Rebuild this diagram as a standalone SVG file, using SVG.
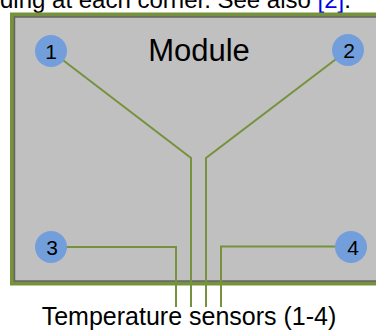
<svg xmlns="http://www.w3.org/2000/svg" width="376" height="336" viewBox="0 0 376 336">
<style>
text{font-family:"Liberation Sans",Arial,sans-serif;fill:#000}
.n circle{fill:#729fdc}
.n text{font-size:21px;text-anchor:middle}
.w{fill:none;stroke:#76923c;stroke-width:2}
</style>
<rect width="376" height="336" fill="#fff"/>
<text x="0" y="7.5" font-size="24">ding at each corner. See also <tspan fill="#0000ee">[2]</tspan>.</text>
<g id="module">
<rect x="12" y="14.5" width="380" height="269" fill="#6b8a34" stroke="#76923c" stroke-width="4"/>
<rect x="14.5" y="17" width="380" height="264" fill="#c0c0c0" stroke="#646464" stroke-width="1.5"/>
<text x="199" y="61" font-size="31" text-anchor="middle">Module</text>
</g>
<g id="connectors">
<polyline class="w" points="51,51 191,158 191,307"/>
<polyline class="w" points="348,50 206,158 206,307"/>
<polyline class="w" points="51,247 176,247 176,307"/>
<polyline class="w" points="351,246.5 221,246.5 221,307"/>
</g>
<g id="s1" class="n"><circle cx="51" cy="51" r="16"/><text x="51" y="58.5">1</text></g>
<g id="s2" class="n"><circle cx="348" cy="50" r="16"/><text x="349" y="57.5">2</text></g>
<g id="s3" class="n"><circle cx="51" cy="247" r="16"/><text x="52" y="254.5">3</text></g>
<g id="s4" class="n"><circle cx="351" cy="247" r="16"/><text x="353" y="254.5">4</text></g>
<text x="189" y="325" font-size="25" text-anchor="middle">Temperature sensors (1-4)</text>
</svg>
